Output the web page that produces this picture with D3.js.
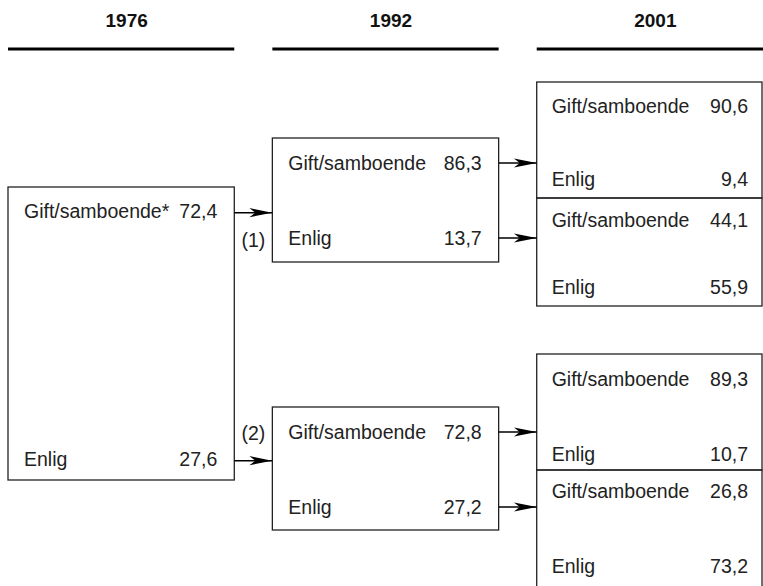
<!DOCTYPE html>
<html>
<head>
<meta charset="utf-8">
<script src="https://cdn.jsdelivr.net/npm/d3@7"></script>
<style>
  body { margin: 0; background: #fff; }
  svg { display: block; }
  text { font-family: "Liberation Sans", Arial, sans-serif; fill: #222; }
</style>
</head>
<body>
<div id="chart"></div>
<script>
// data
const years = ["1976", "1992", "2001"];
const rowLabels = ["Gift/samboende", "Enlig"];
const values1976 = [72.4, 27.6];
const values1992 = [[86.3, 13.7], [72.8, 27.2]];
const values2001 = [[90.6, 9.4], [44.1, 55.9], [89.3, 10.7], [26.8, 73.2]];
const pathLabels = ["(1)", "(2)"];

const width = 763, height = 586;

// layout (pixels) for each box: top, bottom and the two text baselines
const layout1976 = [{top: 187, bottom: 480, rows: [218, 466]}];
const layout1992 = [
    {top: 138, bottom: 262, rows: [170, 245]},
    {top: 407, bottom: 530, rows: [439, 514]}
];
const layout2001 = [
    {top: 82, bottom: 198, rows: [113, 186]},
    {top: 198, bottom: 306, rows: [227, 294]},
    {top: 354, bottom: 470, rows: [386, 461]},
    {top: 470, bottom: 600, rows: [498, 573]}
];

const locale = d3.formatLocale({decimal: ",", thousands: " ", grouping: [3], currency: ["", ""]});
const fmt = locale.format(".1f");

const x = d3.scaleBand()
    .domain(years)
    .range([8, 763])
    .paddingInner(0.144)
    .paddingOuter(0);

const svg = d3.select("#chart")
    .append("svg")
    .attr("width", width)
    .attr("height", height);

svg.append("defs").append("marker")
    .attr("id", "arrow")
    .attr("viewBox", "-23 -5 23 10")
    .attr("refX", 0)
    .attr("refY", 0)
    .attr("markerUnits", "userSpaceOnUse")
    .attr("markerWidth", 23)
    .attr("markerHeight", 10)
    .attr("orient", "auto")
    .append("path")
    .attr("d", "M0,0 L-23,-4.6 L-17,0 L-23,4.6 Z")
    .attr("fill", "#000");

// column headers
svg.selectAll(".year")
    .data(years)
    .join("text")
    .attr("class", "year")
    .attr("x", d => x(d) + x.bandwidth() / 2 + 5.5)
    .attr("y", 27)
    .attr("text-anchor", "middle")
    .style("font-weight", "bold")
    .style("font-size", "19px")
    .style("fill", "#111")
    .text(d => d);

svg.selectAll(".year-line")
    .data(years)
    .join("line")
    .attr("class", "year-line")
    .attr("x1", d => x(d))
    .attr("x2", d => x(d) + x.bandwidth())
    .attr("y1", 49)
    .attr("y2", 49)
    .attr("stroke", "#000")
    .attr("stroke-width", 3);

// build boxes
let boxes = [];
boxes.push({year: "1976", values: values1976, pos: layout1976[0], star: true});
values1992.forEach((v, i) => boxes.push({year: "1992", values: v, pos: layout1992[i]}));
values2001.forEach((v, i) => boxes.push({year: "2001", values: v, pos: layout2001[i]}));

const g = svg.selectAll(".box")
    .data(boxes)
    .join("g")
    .attr("class", "box");

g.append("rect")
    .attr("x", d => x(d.year))
    .attr("y", d => d.pos.top)
    .attr("width", d => d.year == "2001" ? x.bandwidth() - 1 : x.bandwidth())
    .attr("height", d => d.pos.bottom - d.pos.top)
    .attr("fill", "none")
    .attr("stroke", "#222")
    .attr("stroke-width", 1.3);

g.each(function(d) {
    const sel = d3.select(this);
    const x0 = x(d.year);
    const last = d.year == "2001";
    const x1 = x0 + x.bandwidth() - (last ? 15 : 17);
    d.values.forEach((v, i) => {
        sel.append("text")
            .attr("x", x0 + (last ? 15 : 16))
            .attr("y", d.pos.rows[i])
            .style("font-size", "19.5px")
            .text(rowLabels[i] + (d.star && i == 0 ? "*" : ""));
        sel.append("text")
            .attr("x", x1)
            .attr("y", d.pos.rows[i])
            .attr("text-anchor", "end")
            .style("font-size", "19.5px")
            .text(fmt(v));
    });
});

// arrows
let arrows = [];
layout1976[0].rows.forEach(r => arrows.push({from: "1976", to: "1992", y: r - 5.3}));
layout1992.forEach(b => b.rows.forEach(r => arrows.push({from: "1992", to: "2001", y: r - 7})));

svg.selectAll(".arrow")
    .data(arrows)
    .join("line")
    .attr("class", "arrow")
    .attr("x1", d => x(d.from) + x.bandwidth())
    .attr("x2", d => x(d.to))
    .attr("y1", d => d.y)
    .attr("y2", d => d.y)
    .attr("stroke", "#000")
    .attr("stroke-width", 1.5)
    .attr("marker-end", "url(#arrow)");

// path labels (1), (2)
const pathY = [247, 440];
svg.selectAll(".path-label")
    .data(pathLabels)
    .join("text")
    .attr("class", "path-label")
    .attr("x", (x("1976") + x.bandwidth() + x("1992")) / 2)
    .attr("y", (d, i) => pathY[i])
    .attr("text-anchor", "middle")
    .style("font-size", "19.5px")
    .text(d => d);
</script>
</body>
</html>
